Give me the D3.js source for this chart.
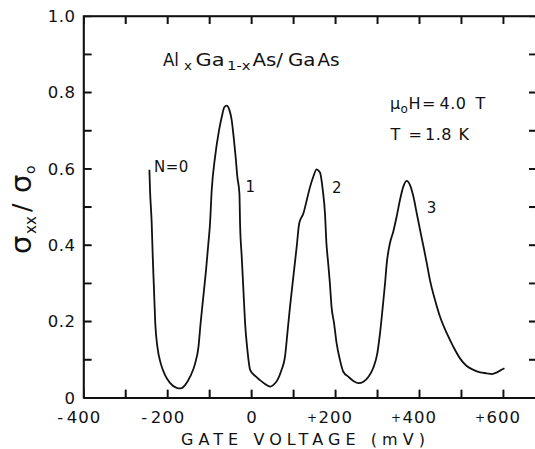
<!DOCTYPE html>
<html>
<head>
<meta charset="utf-8">
<script src="https://cdn.jsdelivr.net/npm/d3@7/dist/d3.min.js"></script>
<style>
  html, body { margin: 0; padding: 0; background: #fff; }
  svg { display: block; }
</style>
</head>
<body>
<svg id="chart" width="535" height="449"></svg>
<script>
// ---- data ----
const gateVoltage = [
  -243, -241.5, -237.5, -235, -232, -229, -224, -216, -206, -194,
  -178, -168, -158, -146, -134, -126, -121, -114.5, -108, -102.5,
  -98.5, -94.5, -86.5, -77, -70.5, -64.5, -59, -52.5, -47, -41.5,
  -37.5, -33.5, -28.5, -27, -23, -19, -15, -9.5, -3, 9,
  20.5, 32.5, 44.5, 52, 62, 72, 80, 86.5, 92, 100,
  108, 114, 124, 132, 140, 147.5, 155.5, 163.5, 170, 175.5,
  178.5, 183, 187, 191, 197, 203, 211, 219, 231, 243,
  255, 267, 279, 290, 300, 306.5, 313, 318.5, 322.5, 330,
  338, 346, 354, 362, 370, 378, 386, 394, 402, 410,
  418, 425.5, 437.5, 449.5, 465.5, 481, 497, 513, 529, 545,
  561, 573, 585, 592.5, 603
];
const sigmaRatio = [
  0.597, 0.544, 0.457, 0.369, 0.282, 0.195, 0.134, 0.090, 0.060, 0.039,
  0.026, 0.0245, 0.033, 0.055, 0.090, 0.134, 0.195, 0.265, 0.335, 0.404,
  0.457, 0.544, 0.631, 0.701, 0.736, 0.761, 0.765, 0.754, 0.728, 0.675,
  0.631, 0.579, 0.535, 0.457, 0.369, 0.282, 0.195, 0.125, 0.073, 0.057,
  0.046, 0.036, 0.029, 0.033, 0.046, 0.073, 0.107, 0.177, 0.238, 0.317,
  0.396, 0.457, 0.483, 0.518, 0.553, 0.579, 0.598, 0.590, 0.545, 0.480,
  0.410, 0.352, 0.300, 0.238, 0.195, 0.143, 0.099, 0.068, 0.055, 0.044,
  0.038, 0.042, 0.055, 0.077, 0.116, 0.169, 0.238, 0.300, 0.352, 0.404,
  0.435, 0.474, 0.518, 0.553, 0.568, 0.557, 0.527, 0.483, 0.439, 0.396,
  0.352, 0.308, 0.256, 0.212, 0.169, 0.134, 0.103, 0.083, 0.073, 0.0665,
  0.064, 0.062, 0.0665, 0.071, 0.077
];
const xTickValues = [-400, -300, -200, -100, 0, 100, 200, 300, 400, 500, 600];
const xLabelValues = [-400, -200, 0, 200, 400, 600];
const yTickValues = [0, 0.1, 0.2, 0.3, 0.4, 0.5, 0.6, 0.7, 0.8, 0.9, 1.0];
const yLabelValues = [0, 0.2, 0.4, 0.6, 0.8, 1.0];
const peakLabels = ["N=0", "1", "2", "3"];
const peakLabelX = [-232, -14, 192, 418];
const peakLabelY = [0.592, 0.538, 0.535, 0.485];

(function () {
const FONT = "DejaVu Sans, sans-serif";
const INK = "#111";
const svg = d3.select("#chart");
const pL = 83.5, pB = 397.7, pT = 16, pR = 537;
// the visible frame is cut by the picture's right edge, at about +680 mV
const x = d3.scaleLinear().domain([-400, 680.5]).range([pL, pR]);
const y = d3.scaleLinear().domain([0, 1]).range([pB, pT]);
const tickLen = 8;
const [x0, x1] = x.domain();
const [y0, y1] = y.domain();

function txt(sel) { return sel.attr("font-family", FONT).attr("fill", INK); }

// frame + inward ticks from the four axes
function styleAxis(g) {
  g.selectAll(".tick text").remove();
  g.selectAll(".tick line").attr("stroke", INK).attr("stroke-width", 1.4);
  g.select(".domain").attr("stroke", INK).attr("stroke-width", 1.6);
}
svg.append("g").attr("transform", `translate(0,${pB})`)
  .call(d3.axisBottom(x).tickValues(xTickValues).tickSize(-tickLen).tickSizeOuter(0)).call(styleAxis);
svg.append("g").attr("transform", `translate(0,${pT})`)
  .call(d3.axisTop(x).tickValues(xTickValues).tickSize(-tickLen).tickSizeOuter(0)).call(styleAxis);
svg.append("g").attr("transform", `translate(${pL},0)`)
  .call(d3.axisLeft(y).tickValues(yTickValues).tickSize(-tickLen).tickSizeOuter(0)).call(styleAxis);
svg.append("g").attr("transform", `translate(${pR},0)`)
  .call(d3.axisRight(y).tickValues(yTickValues).tickSize(-tickLen).tickSizeOuter(0)).call(styleAxis);

// frame and ticks also as one generated path, through the scales
const fp = d3.path();
fp.moveTo(x(x0), y(y1)); fp.lineTo(x(x1), y(y1)); fp.lineTo(x(x1), y(y0));
fp.lineTo(x(x0), y(y0)); fp.closePath();
xTickValues.forEach(v => {
  fp.moveTo(x(v), y(y0)); fp.lineTo(x(v), y(y0) - tickLen);
  fp.moveTo(x(v), y(y1)); fp.lineTo(x(v), y(y1) + tickLen);
});
yTickValues.forEach(v => {
  fp.moveTo(x(x0), y(v)); fp.lineTo(x(x0) + tickLen, y(v));
  fp.moveTo(x(x1), y(v)); fp.lineTo(x(x1) - tickLen, y(v));
});
svg.append("path").attr("d", fp.toString())
  .attr("fill", "none").attr("stroke", INK).attr("stroke-width", 1.5);

// y tick labels
svg.append("g").selectAll("text").data(yLabelValues).join("text")
  .call(txt)
  .attr("x", 75.5).attr("y", d => y(d) + 6)
  .attr("text-anchor", "end").attr("font-size", 16.5).attr("letter-spacing", 0.5)
  .text(d => d === 0 ? "0" : d.toFixed(1));

// x tick labels: digits centred on tick, sign hanging left
const xl = svg.append("g");
xLabelValues.forEach(v => {
  const digits = String(Math.abs(v));
  const t = xl.append("text").call(txt)
    .attr("x", x(v) + 0.5).attr("y", 423.3)
    .attr("text-anchor", "middle").attr("font-size", 16.5).attr("letter-spacing", 1)
    .text(digits);
  const w = t.node().getComputedTextLength();
  if (v < 0) {
    xl.append("text").call(txt).attr("x", x(v) - w / 2 - 3).attr("y", 423.3)
      .attr("text-anchor", "end").attr("font-size", 16.5).text("-");
  } else if (v > 0) {
    xl.append("text").call(txt).attr("x", x(v) - w / 2 - 1).attr("y", 421.5)
      .attr("text-anchor", "end").attr("font-size", 12).text("+");
  }
});

// x axis title
svg.append("text").call(txt).attr("x", 181).attr("y", 445)
  .attr("font-size", 16).attr("textLength", 244).attr("lengthAdjust", "spacing")
  .text("GATE VOLTAGE (mV)");

// y axis title (rotated)
const yt = svg.append("text").call(txt).attr("transform", "translate(31,254) rotate(-90)").attr("font-size", 29);
yt.append("tspan").attr("x", 0).attr("y", 0).text("σ");
yt.append("tspan").attr("x", 20).attr("y", 5).attr("font-size", 15).text("xx");
yt.append("tspan").attr("x", 42).attr("y", -1).attr("font-size", 25).text("/");
yt.append("tspan").attr("x", 61).attr("y", 0).text("σ");
yt.append("tspan").attr("x", 80).attr("y", 4).attr("font-size", 14).text("o");

// curve
const pts = gateVoltage.map((v, i) => [v, sigmaRatio[i]]);
svg.append("path").datum(pts)
  .attr("fill", "none").attr("stroke", INK).attr("stroke-width", 1.8)
  .attr("stroke-linejoin", "round")
  .attr("d", d3.line().x(d => x(d[0])).y(d => y(d[1])).curve(d3.curveMonotoneX));

// peak labels
svg.append("g").selectAll("text").data(peakLabels).join("text").call(txt)
  .attr("x", (d, i) => x(peakLabelX[i])).attr("y", (d, i) => y(peakLabelY[i]))
  .attr("font-size", 15).attr("letter-spacing", 0.5)
  .text(d => d);

// annotation: AlxGa1-xAs/GaAs, each piece fitted to its measured width
function piece(s, a, b, base, size) {
  svg.append("text").call(txt).attr("x", a).attr("y", base).attr("font-size", size)
    .attr("textLength", b - a).attr("lengthAdjust", "spacingAndGlyphs").text(s);
}
piece("Al", 163, 179, 65.5, 17);
piece("x", 184, 192, 70, 13);
piece("Ga", 195.5, 224.5, 65.5, 17);
piece("1-x", 227, 250.5, 70, 13);
piece("As/", 252.5, 283, 65.5, 17);
piece("Ga", 288, 315.5, 65.5, 17);
piece("As", 317.5, 339.5, 65.5, 17);

// annotation: μoH = 4.0 T
const a2 = svg.append("text").call(txt).attr("font-size", 16);
a2.append("tspan").attr("x", 390).attr("y", 108.5).text("μ");
a2.append("tspan").attr("x", 400.5).attr("y", 113).attr("font-size", 12).text("o");
a2.append("tspan").attr("x", 408.5).attr("y", 108.5).text("H");
a2.append("tspan").attr("x", 422).attr("y", 108.5).text("=");
a2.append("tspan").attr("x", 439.5).attr("y", 108.5).attr("letter-spacing", 0.5).text("4.0");
a2.append("tspan").attr("x", 475.5).attr("y", 108.5).text("T");

// annotation: T = 1.8 K
const a3 = svg.append("text").call(txt).attr("font-size", 16);
a3.append("tspan").attr("x", 390.5).attr("y", 139.9).text("T");
a3.append("tspan").attr("x", 408.5).attr("y", 139.9).text("=");
a3.append("tspan").attr("x", 425).attr("y", 139.9).attr("letter-spacing", 0.5).text("1.8");
a3.append("tspan").attr("x", 458.5).attr("y", 139.9).text("K");
})();
</script>
</body>
</html>
